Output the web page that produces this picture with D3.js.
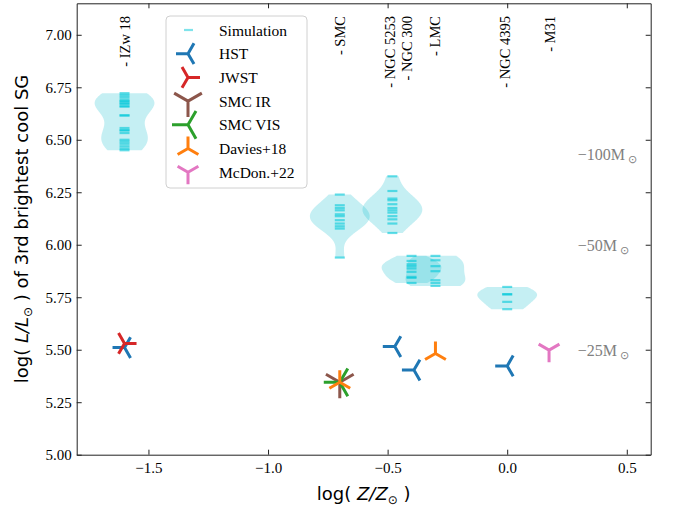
<!DOCTYPE html>
<html>
<head>
<meta charset="utf-8">
<script src="https://cdn.jsdelivr.net/npm/d3@7"></script>
<style>
  body { margin: 0; background: #fff; }
  svg { display: block; }
  .axis path, .axis line { stroke: #222; }
</style>
</head>
<body>
<svg id="chart"></svg>
<script>
// ---- data (overlapping dashes counted twice) ----
const simNames = ["IZw 18", "SMC", "NGC 5253", "NGC 300", "LMC", "NGC 4395"];
const simZ = [-1.60, -0.70, -0.48, -0.40, -0.30, 0.00];
const simLogL = [
  [6.722, 6.713, 6.703, 6.692, 6.683, 6.683, 6.672, 6.672, 6.659, 6.659, 6.616, 6.616,
   6.556, 6.545, 6.545, 6.532, 6.500, 6.491, 6.481, 6.469, 6.458, 6.450],
  [6.239, 6.188, 6.175, 6.164, 6.145, 6.136, 6.117, 6.101, 6.088, 6.077, 5.939],
  [6.326, 6.256, 6.220, 6.212, 6.193, 6.175, 6.164, 6.153, 6.136, 6.121, 6.101, 6.056],
  [5.947, 5.923, 5.907, 5.898, 5.887, 5.871, 5.847, 5.842, 5.818],
  [5.947, 5.926, 5.898, 5.874, 5.831, 5.818, 5.804],
  [5.799, 5.764, 5.764, 5.728, 5.693]
];

const galaxyNames = ["IZw 18", "SMC", "NGC 5253", "NGC 300", "LMC", "NGC 4395", "M31"];
const galaxyZ = [-1.60, -0.70, -0.49, -0.42, -0.30, -0.01, 0.18];

const obsNames = ["HST", "JWST", "SMC IR", "SMC VIS", "Davies+18", "McDon.+22"];
const obsColors = ["#1f77b4", "#d62728", "#8c564b", "#2ca02c", "#ff7f0e", "#e377c2"];
const obsMarkers = ["tri_left", "tri_right", "tri_down", "tri_left", "tri_up", "tri_down"];
const obsArm = [12, 12, 16, 16, 12, 12];
const obsZ = [[-1.60, -0.47, -0.39, 0.00], [-1.60], [-0.70], [-0.70], [-0.70, -0.30], [0.175]];
const obsLogL = [[5.51, 5.515, 5.403, 5.423], [5.53], [5.345], [5.345], [5.345, 5.482], [5.498]];

const massLabels = ["100", "50", "25"];
const massLogL = [6.43, 6.00, 5.50];

const xTicks = [-1.5, -1.0, -0.5, 0.0, 0.5];
const yTicks = [5.00, 5.25, 5.50, 5.75, 6.00, 6.25, 6.50, 6.75, 7.00];

// ---- layout ----
const WIDTH = 675, HEIGHT = 511;
const PLOT = { LEFT: 76.7, RIGHT: 650.7, TOP: 3.3, BOTTOM: 454.7 };
const VIOLIN_HALF = 0.125;
const SIM_COLOR = "#17becf";
const DASH_COLOR = "#00c8d8";
const SERIF = "'Liberation Serif', 'Times New Roman', serif";
const SANS = "'DejaVu Sans', sans-serif";

const svg = d3.select("#chart").attr("width", WIDTH).attr("height", HEIGHT);

const xScale = d3.scaleLinear().domain([-1.8, 0.6]).range([PLOT.LEFT, PLOT.RIGHT]);
const yScale = d3.scaleLinear().domain([5.0, 7.15]).range([PLOT.BOTTOM, PLOT.TOP]);

/**
 * Gaussian KDE (Scott bandwidth) evaluated between min and max, like a violin plot
 */
function violinProfile(values) {
  const n = values.length;
  const bw = d3.deviation(values) * Math.pow(n, -1 / 5);
  const [lo, hi] = d3.extent(values);
  const grid = d3.range(0, 101).map(i => lo + (hi - lo) * i / 100);
  const dens = grid.map(g => d3.sum(values, v => Math.exp(-0.5 * ((g - v) / bw) ** 2)));
  const mx = d3.max(dens);
  return grid.map((g, i) => [g, dens[i] / mx]);
}

/**
 * Path for a matplotlib-like tri marker
 */
function triPath(kind, r) {
  const angles = {
    tri_down: [270, 30, 150],
    tri_up: [90, 210, 330],
    tri_left: [180, 60, 300],
    tri_right: [0, 120, 240]
  }[kind];
  return angles.map(a => {
    const t = a * Math.PI / 180;
    return `M0,0L${(r * Math.cos(t)).toFixed(2)},${(-r * Math.sin(t)).toFixed(2)}`;
  }).join("");
}

// violins
const plot = svg.append("g");
simLogL.forEach((vals, i) => {
  const area = d3.area()
    .y(d => yScale(d[0]))
    .x0(d => xScale(simZ[i] - VIOLIN_HALF * d[1]))
    .x1(d => xScale(simZ[i] + VIOLIN_HALF * d[1]));
  plot.append("path")
    .datum(violinProfile(vals))
    .attr("d", area)
    .attr("fill", SIM_COLOR)
    .attr("fill-opacity", 0.25);
});

// simulation dashes
simLogL.forEach((vals, i) => {
  plot.selectAll(null)
    .data(vals)
    .enter()
    .append("line")
      .attr("x1", xScale(simZ[i]) - 5)
      .attr("x2", xScale(simZ[i]) + 5)
      .attr("y1", d => yScale(d))
      .attr("y2", d => yScale(d))
      .attr("stroke", DASH_COLOR)
      .attr("stroke-width", 2.2)
      .attr("stroke-opacity", 0.6);
});

// observations
obsNames.forEach((name, i) => {
  plot.selectAll(null)
    .data(obsZ[i].map((z, j) => [z, obsLogL[i][j]]))
    .enter()
    .append("path")
      .attr("transform", d => `translate(${xScale(d[0])},${yScale(d[1])})`)
      .attr("d", triPath(obsMarkers[i], obsArm[i]))
      .attr("stroke", obsColors[i])
      .attr("stroke-width", 3)
      .attr("fill", "none");
});

// galaxy labels at the top
plot.selectAll(null)
  .data(galaxyNames)
  .enter()
  .append("text")
    .attr("transform", (d, i) => `translate(${xScale(galaxyZ[i])},16) rotate(-90)`)
    .attr("text-anchor", "end")
    .attr("dominant-baseline", "central")
    .style("font-family", SERIF)
    .style("font-size", "14.5px")
    .text(d => `- ${d}`);

// mass labels on the right
const mass = plot.selectAll(null)
  .data(massLabels)
  .enter()
  .append("text")
    .attr("x", xScale(0.295))
    .attr("y", (d, i) => yScale(massLogL[i]))
    .attr("dominant-baseline", "central")
    .style("font-family", SERIF)
    .style("font-size", "16px")
    .attr("fill", "#808080");
mass.append("tspan").text(d => `\u2212${d}M`);
mass.append("tspan").attr("dx", 3).attr("dy", 5).style("font-size", "11px").text("\u2299");

// axes
const xAxis = svg.append("g").attr("class", "axis")
  .attr("transform", `translate(0,${PLOT.BOTTOM})`)
  .call(d3.axisBottom(xScale).tickValues(xTicks).tickFormat(d3.format(".1f"))
    .tickSizeInner(-5).tickSizeOuter(0).tickPadding(8));
svg.append("g").attr("class", "axis")
  .attr("transform", `translate(0,${PLOT.TOP})`)
  .call(d3.axisTop(xScale).tickValues(xTicks).tickFormat("")
    .tickSizeInner(-5).tickSizeOuter(0));
const yAxis = svg.append("g").attr("class", "axis")
  .attr("transform", `translate(${PLOT.LEFT},0)`)
  .call(d3.axisLeft(yScale).tickValues(yTicks).tickFormat(d3.format(".2f"))
    .tickSizeInner(-5).tickSizeOuter(0).tickPadding(5));
svg.append("g").attr("class", "axis")
  .attr("transform", `translate(${PLOT.RIGHT},0)`)
  .call(d3.axisRight(yScale).tickValues(yTicks).tickFormat("")
    .tickSizeInner(-5).tickSizeOuter(0));
[xAxis, yAxis].forEach(g => g.selectAll("text")
  .style("font-family", SERIF)
  .style("font-size", "15px")
  .attr("fill", "#000"));

// axis titles
const xTitle = svg.append("text")
  .attr("x", (PLOT.LEFT + PLOT.RIGHT) / 2)
  .attr("y", 500)
  .attr("text-anchor", "middle")
  .style("font-family", SANS)
  .style("font-size", "18px");
xTitle.append("tspan").text("log( ");
xTitle.append("tspan").style("font-style", "italic").text("Z/Z");
xTitle.append("tspan").attr("dy", 4).style("font-size", "12px").text("\u2299");
xTitle.append("tspan").attr("dy", -4).text(" )");

const yTitle = svg.append("text")
  .attr("transform", `translate(28,${(PLOT.TOP + PLOT.BOTTOM) / 2}) rotate(-90)`)
  .attr("text-anchor", "middle")
  .style("font-family", SANS)
  .style("font-size", "18px");
yTitle.append("tspan").text("log( ");
yTitle.append("tspan").style("font-style", "italic").text("L/L");
yTitle.append("tspan").attr("dy", 4).style("font-size", "12px").text("\u2299");
yTitle.append("tspan").attr("dy", -4).text(" ) of 3rd brightest cool SG");

// legend
const legend = svg.append("g");
legend.append("rect")
  .attr("x", 166).attr("y", 16).attr("width", 141).attr("height", 172)
  .attr("rx", 4)
  .attr("fill", "#fff").attr("fill-opacity", 0.8)
  .attr("stroke", "#d0d0d0");
const legendLabels = ["Simulation"].concat(obsNames);
const rowY = i => 30 + i * 23.7;
legend.selectAll(null)
  .data(legendLabels)
  .enter()
  .append("text")
    .attr("x", 219)
    .attr("y", (d, i) => rowY(i))
    .attr("dominant-baseline", "central")
    .style("font-family", SERIF)
    .style("font-size", "15.5px")
    .text(d => d);
legend.append("line")
  .attr("x1", 184).attr("x2", 193).attr("y1", rowY(0)).attr("y2", rowY(0))
  .attr("stroke", DASH_COLOR).attr("stroke-width", 2.2).attr("stroke-opacity", 0.5);
obsNames.forEach((name, i) => {
  legend.append("path")
    .attr("transform", `translate(188,${rowY(i + 1)})`)
    .attr("d", triPath(obsMarkers[i], obsArm[i]))
    .attr("stroke", obsColors[i])
    .attr("stroke-width", 3)
    .attr("fill", "none");
});
</script>
</body>
</html>
